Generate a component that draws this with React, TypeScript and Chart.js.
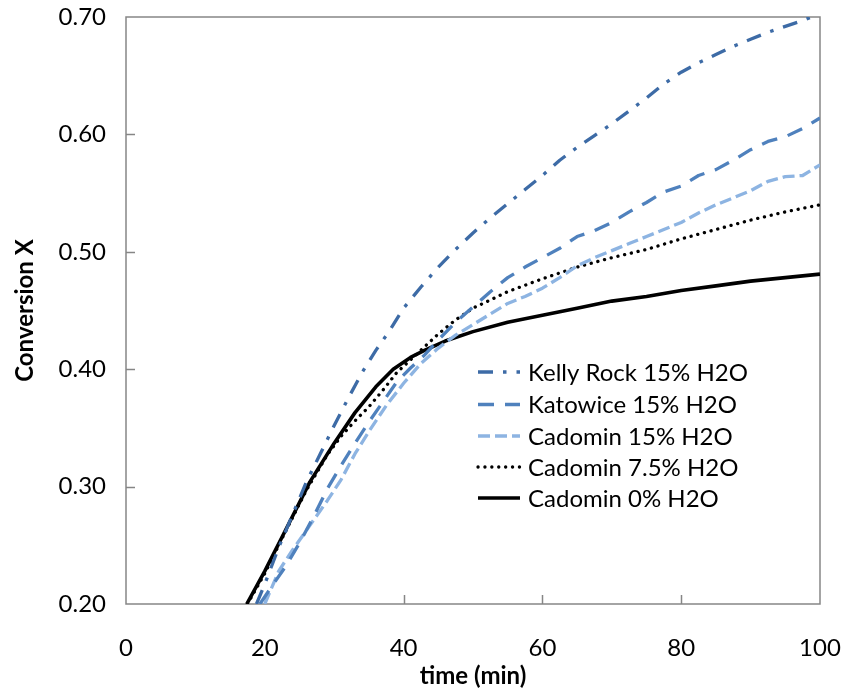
import { useEffect, useRef } from 'react';
import { Chart, registerables } from 'chart.js';

Chart.register(...registerables);

const FONT = 'Lato, "Liberation Sans", sans-serif';

// Axis ranges and tick steps
const xTicks = [0, 20, 40, 60, 80, 100];
const yTicks = [0.2, 0.3, 0.4, 0.5, 0.6, 0.7];

// Kelly Rock 15% H2O
const kellyTime = [18.8, 20, 22, 24, 26, 28, 30, 32, 34, 36, 38, 40, 42.5, 45, 47.5, 50, 52.5, 55, 57.5, 60, 62.5, 65, 67.5, 70, 72.5, 75, 77.5, 80, 82.5, 85, 87.5, 90, 92.5, 95, 97.5, 100];
const kellyConv = [0.200, 0.217, 0.248, 0.276, 0.304, 0.328, 0.352, 0.375, 0.397, 0.416, 0.433, 0.452, 0.470, 0.487, 0.502, 0.516, 0.529, 0.541, 0.553, 0.565, 0.578, 0.589, 0.599, 0.609, 0.620, 0.631, 0.643, 0.653, 0.661, 0.668, 0.675, 0.681, 0.687, 0.692, 0.697, 0.703];

// Katowice 15% H2O
const katowiceTime = [19.3, 21, 23, 25, 27, 29, 31, 33, 35, 37, 39, 41, 43, 45, 47.5, 50, 52.5, 55, 57.5, 60, 62.5, 65, 67.5, 70, 72.5, 75, 77.5, 80, 82.5, 85, 87.5, 90, 92.5, 95, 97.5, 100];
const katowiceConv = [0.200, 0.215, 0.232, 0.252, 0.274, 0.298, 0.318, 0.337, 0.355, 0.372, 0.389, 0.401, 0.412, 0.425, 0.440, 0.453, 0.466, 0.478, 0.487, 0.495, 0.503, 0.513, 0.518, 0.525, 0.534, 0.542, 0.551, 0.556, 0.565, 0.570, 0.578, 0.587, 0.594, 0.598, 0.605, 0.614];

// Cadomin 15% H2O
const cadomin15Time = [20, 22, 24, 26.5, 29, 31, 33, 35, 37.5, 40, 42.5, 45, 47.5, 50, 52.5, 55, 57.5, 60, 62.5, 65, 67.5, 70, 72.5, 75, 77.5, 80, 82.5, 85, 87.5, 90, 92.5, 95, 97.5, 100];
const cadomin15Conv = [0.200, 0.228, 0.246, 0.267, 0.288, 0.306, 0.328, 0.347, 0.369, 0.388, 0.405, 0.418, 0.429, 0.438, 0.447, 0.456, 0.462, 0.469, 0.478, 0.488, 0.495, 0.501, 0.507, 0.513, 0.519, 0.525, 0.533, 0.540, 0.546, 0.552, 0.560, 0.564, 0.565, 0.574];

// Cadomin 7.5% H2O
const cadomin75Time = [17.5, 20, 23, 26, 29, 31, 33, 35, 37, 39, 41, 43, 45, 47.5, 50, 55, 60, 65, 70, 75, 80, 85, 90, 95, 100];
const cadomin75Conv = [0.200, 0.226, 0.262, 0.297, 0.327, 0.343, 0.356, 0.368, 0.382, 0.397, 0.408, 0.419, 0.430, 0.442, 0.452, 0.466, 0.477, 0.487, 0.495, 0.502, 0.511, 0.519, 0.527, 0.534, 0.540];

// Cadomin 0% H2O
const cadomin0Time = [17.4, 20, 23, 26.5, 30, 33, 36, 38.5, 41, 43, 46, 50, 55, 60, 65, 70, 75, 80, 85, 90, 95, 100];
const cadomin0Conv = [0.200, 0.228, 0.263, 0.304, 0.337, 0.363, 0.385, 0.400, 0.410, 0.416, 0.424, 0.432, 0.440, 0.446, 0.452, 0.458, 0.462, 0.467, 0.471, 0.475, 0.478, 0.481];

const seriesNames = [
  'Kelly Rock 15% H2O',
  'Katowice 15% H2O',
  'Cadomin 15% H2O',
  'Cadomin 7.5% H2O',
  'Cadomin 0% H2O',
];

const toPoints = (t: number[], v: number[]) => t.map((x, i) => ({ x, y: v[i] }));

type Style = { color: string; width: number; dash: number[]; cap: CanvasLineCap };

const styles: Style[] = [
  { color: '#3D6BA6', width: 3.3, dash: [15, 10, 3.5, 10], cap: 'butt' },
  { color: '#4F81BD', width: 3.3, dash: [16, 11], cap: 'butt' },
  { color: '#8DB4E2', width: 3.3, dash: [12, 5], cap: 'butt' },
  { color: '#000000', width: 3.3, dash: [0.1, 6.8], cap: 'round' },
  { color: '#000000', width: 3.6, dash: [], cap: 'butt' },
];

const FRAME = '#868686';

// Plot frame plus short inward tick marks
const framePlugin = {
  id: 'frameTicks',
  beforeDatasetsDraw(chart: any) {
    const { ctx, chartArea: a, scales } = chart;
    ctx.save();
    ctx.strokeStyle = FRAME;
    ctx.lineWidth = 1.5;
    ctx.strokeRect(a.left, a.top, a.right - a.left, a.bottom - a.top);
    ctx.beginPath();
    yTicks.slice(1, -1).forEach((v) => {
      const y = Math.round(scales.y.getPixelForValue(v)) + 0.5;
      ctx.moveTo(a.left, y);
      ctx.lineTo(a.left + 9, y);
    });
    xTicks.slice(1, -1).forEach((v) => {
      const x = Math.round(scales.x.getPixelForValue(v)) + 0.5;
      ctx.moveTo(x, a.bottom);
      ctx.lineTo(x, a.bottom - 9);
    });
    ctx.stroke();
    ctx.restore();
  },
};

// Legend drawn inside the plot, to the lower right
const legendPlugin = {
  id: 'innerLegend',
  afterDatasetsDraw(chart: any) {
    const { ctx } = chart;
    const x0 = 478;
    const x1 = 520;
    const textX = 528;
    const rowY = [372, 404.5, 436, 467, 498];
    ctx.save();
    chart.data.datasets.forEach((ds: any, i: number) => {
      const s = styles[i];
      const y = rowY[i];
      ctx.beginPath();
      ctx.strokeStyle = s.color;
      ctx.lineWidth = s.width;
      ctx.lineCap = s.cap;
      ctx.setLineDash(s.dash);
      ctx.moveTo(x0, y);
      ctx.lineTo(x1, y);
      ctx.stroke();
      ctx.setLineDash([]);
      ctx.fillStyle = '#000';
      ctx.font = `24px ${FONT}`;
      ctx.textBaseline = 'middle';
      ctx.textAlign = 'left';
      ctx.fillText(ds.label, textX, y + 1);
    });
    ctx.restore();
  },
};

export default function App() {
  const ref = useRef<HTMLCanvasElement | null>(null);

  useEffect(() => {
    if (!ref.current) return;
    const series = [
      toPoints(kellyTime, kellyConv),
      toPoints(katowiceTime, katowiceConv),
      toPoints(cadomin15Time, cadomin15Conv),
      toPoints(cadomin75Time, cadomin75Conv),
      toPoints(cadomin0Time, cadomin0Conv),
    ];
    const chart = new Chart(ref.current, {
      type: 'line',
      data: {
        datasets: series.map((data, i) => ({
          label: seriesNames[i],
          data,
          borderColor: styles[i].color,
          borderWidth: styles[i].width,
          borderDash: styles[i].dash,
          borderCapStyle: styles[i].cap,
          borderJoinStyle: 'round',
          pointRadius: 0,
          tension: 0,
          fill: false,
        })),
      },
      options: {
        responsive: false,
        animation: false,
        events: [],
        layout: { padding: { left: 0, top: 17, right: 22, bottom: 0 } },
        plugins: {
          legend: { display: false },
          tooltip: { enabled: false },
        },
        scales: {
          x: {
            type: 'linear',
            min: xTicks[0],
            max: xTicks[xTicks.length - 1],
            afterFit: (s: any) => {
              s.height = 87;
              s.paddingLeft = 0;
              s.paddingRight = 0;
            },
            afterBuildTicks: (s: any) => { s.ticks = xTicks.map((v) => ({ value: v })); },
            border: { display: false },
            grid: { display: false, drawTicks: false },
            ticks: {
              color: '#000',
              padding: 30,
              maxRotation: 0,
              font: { family: FONT, size: 24 },
              callback: (v: any) => String(v),
            },
            title: {
              display: true,
              text: 'time (min)',
              color: '#000',
              padding: { top: 0, bottom: 0 },
              font: { family: FONT, size: 24, weight: 'bold' },
            },
          },
          y: {
            type: 'linear',
            min: yTicks[0],
            max: yTicks[yTicks.length - 1],
            afterFit: (s: any) => {
              s.width = 126;
              s.paddingTop = 0;
              s.paddingBottom = 0;
            },
            afterBuildTicks: (s: any) => { s.ticks = yTicks.map((v) => ({ value: v })); },
            border: { display: false },
            grid: { display: false, drawTicks: false },
            ticks: {
              color: '#000',
              padding: 20,
              font: { family: FONT, size: 24 },
              callback: (v: any) => Number(v).toFixed(2),
            },
            title: {
              display: true,
              text: 'Conversion X',
              color: '#000',
              padding: { top: 11, bottom: 0 },
              font: { family: FONT, size: 24, weight: 'bold' },
            },
          },
        },
      },
      plugins: [framePlugin, legendPlugin],
    } as any);
    return () => chart.destroy();
  }, []);

  return (
    <div style={{ position: 'absolute', left: 0, top: 0, width: 842, height: 691, background: '#fff' }}>
      <canvas ref={ref} width={842} height={691} style={{ display: 'block' }} />
    </div>
  );
}
